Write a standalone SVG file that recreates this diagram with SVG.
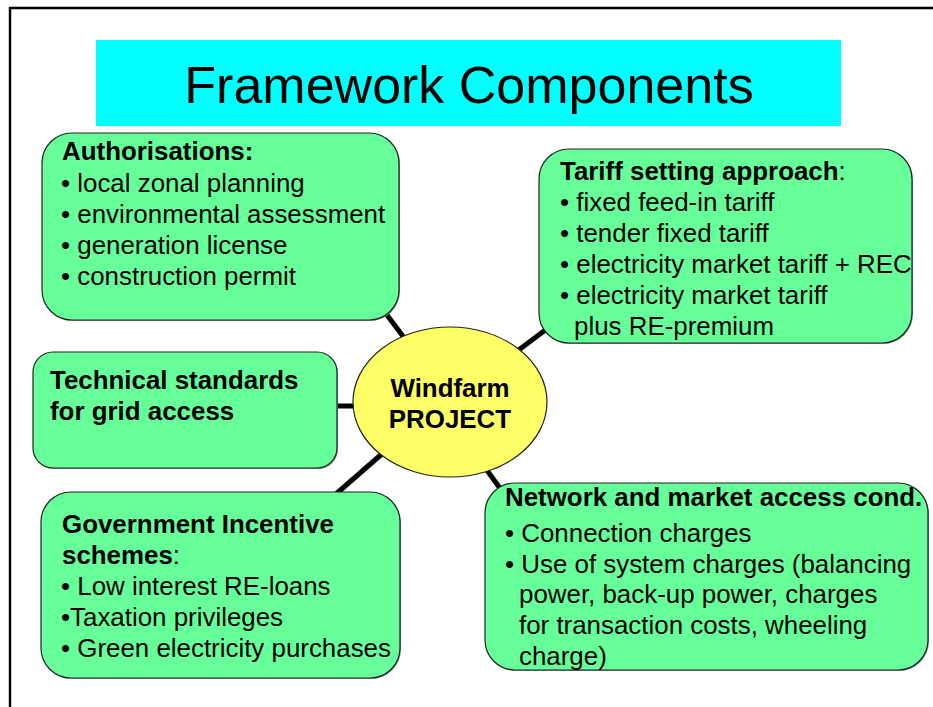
<svg xmlns="http://www.w3.org/2000/svg" width="933" height="707" viewBox="0 0 933 707">
  <defs>
    <style>
      .frame { stroke: #000; stroke-width: 2.4; fill: none; }
      .box { fill: #66FF99; stroke: #222; stroke-width: 1.2; }
      .shadow { fill: #8a8a8a; }
      .hub { fill: #FFFF66; stroke: #222; stroke-width: 1.2; }
      .link { stroke: #000; stroke-width: 5; fill: none; }
      text { font-family: "Liberation Sans", Arial, sans-serif; fill: #000; }
      .t { font-size: 25.9px; }
      .b { font-size: 25.9px; font-weight: bold; }
      .title { font-size: 52px; }
    </style>
  </defs>

  <rect width="933" height="707" fill="#fff"/>

  <!-- page frame (left and top edges) -->
  <path class="frame" d="M10,707 V8 H933"/>

  <!-- title banner -->
  <g id="title">
    <rect x="96" y="40" width="745" height="86" fill="#00FFFF"/>
    <text class="title" x="469" y="103" text-anchor="middle">Framework Components</text>
  </g>

  <!-- connectors from hub to each component -->
  <g id="connectors">
    <line class="link" x1="384" y1="311" x2="408" y2="343"/>
    <line class="link" x1="548" y1="328" x2="516" y2="352"/>
    <line class="link" x1="337" y1="406" x2="354" y2="406"/>
    <line class="link" x1="383" y1="453" x2="336" y2="494"/>
    <line class="link" x1="486" y1="469" x2="502" y2="491"/>
  </g>

  <g id="authorisations">
    <rect class="shadow" x="43" y="134" width="357" height="187" rx="30"/>
    <rect class="box" x="42" y="133" width="357" height="187" rx="30"/>
    <text class="b" x="62" y="160">Authorisations:</text>
    <text class="t" x="61" y="192">• local zonal planning</text>
    <text class="t" x="61" y="223">• environmental assessment</text>
    <text class="t" x="61" y="254">• generation license</text>
    <text class="t" x="61" y="285">• construction permit</text>
  </g>

  <g id="tariff">
    <rect class="shadow" x="540" y="150" width="373" height="194" rx="30"/>
    <rect class="box" x="539" y="149" width="373" height="194" rx="30"/>
    <text x="560" y="180"><tspan class="b">Tariff setting approach</tspan><tspan class="t">:</tspan></text>
    <text class="t" x="560" y="211">• fixed feed-in tariff</text>
    <text class="t" x="560" y="242">• tender fixed tariff</text>
    <text class="t" x="560" y="273">• electricity market tariff + REC</text>
    <text class="t" x="560" y="304">• electricity market tariff</text>
    <text class="t" x="574" y="335">plus RE-premium</text>
  </g>

  <g id="technical">
    <rect class="shadow" x="34" y="353" width="304" height="116" rx="20"/>
    <rect class="box" x="33" y="352" width="304" height="116" rx="20"/>
    <text class="b" x="50" y="389">Technical standards</text>
    <text class="b" x="50" y="420">for grid access</text>
  </g>

  <g id="incentives">
    <rect class="shadow" x="42" y="493" width="359" height="186" rx="30"/>
    <rect class="box" x="41" y="492" width="359" height="186" rx="30"/>
    <text class="b" x="62" y="533">Government Incentive</text>
    <text x="62" y="564"><tspan class="b">schemes</tspan><tspan class="t">:</tspan></text>
    <text class="t" x="61" y="595">• Low interest RE-loans</text>
    <text class="t" x="61" y="626">•Taxation privileges</text>
    <text class="t" x="61" y="657">• Green electricity purchases</text>
  </g>

  <g id="network">
    <rect class="shadow" x="486" y="484" width="443" height="187" rx="30"/>
    <rect class="box" x="485" y="483" width="443" height="187" rx="30"/>
    <text class="b" x="505" y="506">Network and market access cond.</text>
    <text class="t" x="505" y="542">• Connection charges</text>
    <text class="t" x="505" y="573">• Use of system charges (balancing</text>
    <text class="t" x="519" y="603">power, back-up power, charges</text>
    <text class="t" x="519" y="634">for transaction costs, wheeling</text>
    <text class="t" x="519" y="665">charge)</text>
  </g>

  <g id="project">
    <ellipse class="hub" cx="450" cy="402" rx="97" ry="75"/>
    <text class="b" x="450" y="397" text-anchor="middle">Windfarm</text>
    <text class="b" x="450" y="428" text-anchor="middle">PROJECT</text>
  </g>
</svg>
